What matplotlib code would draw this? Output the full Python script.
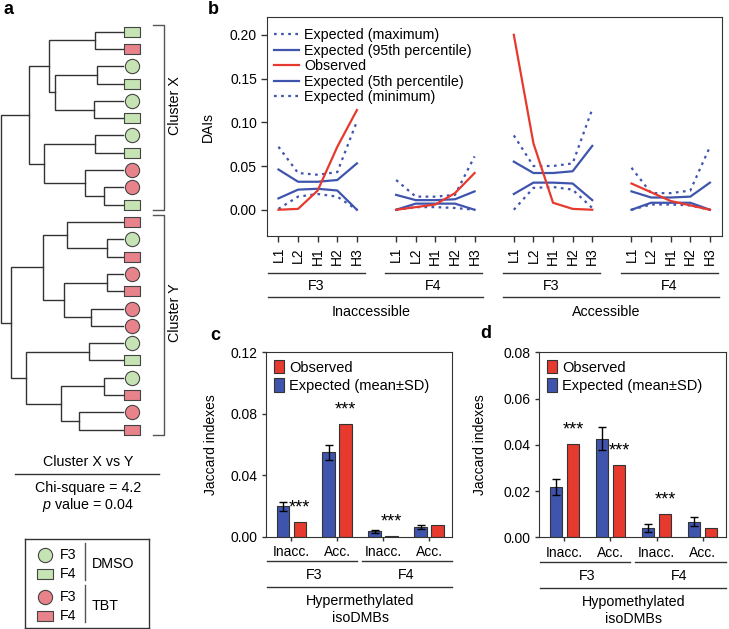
import numpy as np
import matplotlib.pyplot as plt
from matplotlib.lines import Line2D
from matplotlib.ticker import FormatStrFormatter

plt.rcParams['font.family'] = ['Liberation Sans', 'DejaVu Sans']
plt.rcParams['mathtext.fontset'] = 'custom'
plt.rcParams['mathtext.rm'] = 'Liberation Sans'
plt.rcParams['mathtext.it'] = 'Liberation Sans:italic'
plt.rcParams['font.size'] = 10
plt.rcParams['axes.edgecolor'] = '#333333'
plt.rcParams['xtick.color'] = '#333333'
plt.rcParams['ytick.color'] = '#333333'
plt.rcParams['xtick.labelcolor'] = 'black'
plt.rcParams['ytick.labelcolor'] = 'black'

# ---- panel a: dendrogram leaves (top to bottom) and merges ----
leaf_treat = ["DMSO", "TBT", "DMSO", "DMSO", "DMSO", "DMSO", "DMSO", "DMSO", "TBT", "TBT", "DMSO",
              "TBT", "DMSO", "TBT", "TBT", "TBT", "TBT", "TBT", "DMSO", "DMSO", "DMSO", "TBT", "TBT", "TBT"]
leaf_gen = ["F4", "F4", "F3", "F4", "F3", "F4", "F3", "F4", "F3", "F3", "F4",
            "F4", "F3", "F4", "F3", "F4", "F3", "F3", "F3", "F4", "F3", "F4", "F3", "F4"]
# (node a, node b, height); leaves are 0..23, new nodes numbered from 24
merges = [(0, 1, 0.232), (2, 3, 0.213), (4, 5, 0.240), (25, 26, 0.559), (24, 27, 0.605),
          (6, 7, 0.232), (9, 10, 0.155), (8, 30, 0.308), (29, 31, 0.649), (28, 32, 0.768),
          (12, 13, 0.131), (11, 34, 0.455), (14, 15, 0.131), (16, 17, 0.259), (36, 37, 0.482),
          (35, 38, 0.659), (18, 19, 0.278), (20, 21, 0.158), (22, 23, 0.362), (41, 42, 0.512),
          (40, 43, 0.796), (39, 44, 0.918), (33, 45, 1.0)]
clusters = [("Cluster X", 0, 10), ("Cluster Y", 11, 23)]

# ---- panel b: DAIs ----
stages = ["L1", "L2", "H1", "H2", "H3"]
b_groups = ["F3", "F4", "F3", "F4"]
b_access = ["Inaccessible", "Accessible"]
exp_max = [[0.072, 0.042, 0.040, 0.043, 0.101], [0.034, 0.015, 0.015, 0.017, 0.061],
           [0.085, 0.050, 0.050, 0.053, 0.115], [0.048, 0.019, 0.019, 0.022, 0.072]]
exp_p95 = [[0.046, 0.032, 0.032, 0.034, 0.053], [0.017, 0.011, 0.011, 0.012, 0.021],
           [0.055, 0.042, 0.042, 0.044, 0.073], [0.021, 0.014, 0.014, 0.015, 0.031]]
observed = [[0.000, 0.001, 0.022, 0.072, 0.114], [0.000, 0.003, 0.006, 0.019, 0.042],
            [0.200, 0.076, 0.008, 0.001, 0.000], [0.030, 0.020, 0.010, 0.005, 0.000]]
exp_p5 = [[0.013, 0.023, 0.024, 0.022, 0.000], [0.000, 0.007, 0.007, 0.007, 0.000],
          [0.018, 0.031, 0.031, 0.030, 0.011], [0.000, 0.008, 0.008, 0.008, 0.000]]
exp_min = [[0.001, 0.015, 0.018, 0.015, 0.000], [0.000, 0.003, 0.003, 0.002, 0.000],
           [0.000, 0.025, 0.026, 0.023, 0.002], [0.000, 0.006, 0.006, 0.005, 0.000]]

# ---- panels c, d: Jaccard indexes ----
cd_cats = ["Inacc.", "Acc.", "Inacc.", "Acc."]
cd_gens = ["F3", "F4"]
c_obs = [0.0095, 0.0733, 0.0005, 0.0076]
c_exp = [0.0197, 0.0549, 0.0035, 0.0063]
c_sd = [0.0027, 0.0049, 0.0010, 0.0013]
c_sig = [True, True, True, False]
d_obs = [0.0404, 0.0314, 0.0100, 0.0042]
d_exp = [0.0217, 0.0426, 0.0039, 0.0067]
d_sd = [0.0034, 0.0049, 0.0018, 0.0019]
d_sig = [True, True, True, False]

BLUE = '#3f55ad'
RED = '#e63a2e'
GREEN = '#c6e3b3'
PINK = '#e8838c'
DARK = '#333333'
DOTS = (0, (1.2, 2.0))

W, H = 729, 629
fig = plt.figure(figsize=(W / 100, H / 100), dpi=100)


def px_axes(x0, y0, x1, y1):
    return fig.add_axes([x0 / W, 1 - y1 / H, (x1 - x0) / W, (y1 - y0) / H])


rect_marker = [(-1, -0.72), (1, -0.72), (1, 0.72), (-1, 0.72), (-1, -0.72)]


def leaf_style(treat, gen):
    color = GREEN if treat == "DMSO" else PINK
    if gen == "F3":
        return dict(marker='o', s=105, c=color)
    return dict(marker=rect_marker, s=120, c=color)


# ================= a =================
axa = px_axes(0, 22, 200, 440)
axa.set_xlim(1.008, -0.631)
axa.set_ylim(23.6, -0.56)
axa.axis('off')

pos = {i: (0.0, float(i)) for i in range(len(leaf_treat))}
node = len(leaf_treat)
for a, b, h in merges:
    (ha, ya), (hb, yb) = pos[a], pos[b]
    axa.plot([ha, h, h, hb], [ya, ya, yb, yb], color=DARK, lw=1.0, solid_joinstyle='miter')
    pos[node] = (h, (ya + yb) / 2)
    node += 1

for i, (t, g) in enumerate(zip(leaf_treat, leaf_gen)):
    axa.scatter([-0.074], [i], edgecolors='#444444', linewidths=0.8, zorder=3, **leaf_style(t, g))

for name, i0, i1 in clusters:
    axa.plot([-0.246, -0.336, -0.336, -0.246], [i0 - 0.38, i0 - 0.38, i1 + 0.3, i1 + 0.3],
             color='#555555', lw=1.0)
    axa.text(-0.43, (i0 + i1) / 2 - 0.73, name, rotation=90, ha='center', va='center', fontsize=10.3)

fig.text(88 / W, 1 - 462 / H, "Cluster X vs Y", ha='center', va='center', fontsize=10.3)
fig.add_artist(Line2D([15 / W, 159 / W], [1 - 474 / H] * 2, color=DARK, lw=1.0))
fig.text(88 / W, 1 - 488 / H, "Chi-square = 4.2", ha='center', va='center', fontsize=10.3)
fig.text(88 / W, 1 - 505 / H, "$p$ value = 0.04", ha='center', va='center', fontsize=10.3)

# legend box for panel a
axl = px_axes(25, 539, 149, 628)
axl.set_xlim(25, 149)
axl.set_ylim(628, 539)
axl.set_xticks([])
axl.set_yticks([])
for sp in axl.spines.values():
    sp.set_linewidth(1.0)
    sp.set_color(DARK)
for treat, y0 in [("DMSO", 555), ("TBT", 597)]:
    for k, gen in enumerate(["F3", "F4"]):
        yy = y0 + k * 19
        axl.scatter([45], [yy], edgecolors='#444444', linewidths=0.8, **leaf_style(treat, gen))
        axl.text(60, yy, gen, ha='left', va='center', fontsize=10.3)
    axl.plot([85, 85], [y0 - 12, y0 + 25], color='#555555', lw=1.0)
    axl.text(92, y0 + 9, treat, ha='left', va='center', fontsize=10.3)

# ================= b =================
axb = px_axes(266.7, 17.3, 721.7, 236)
series = [(exp_max, BLUE, DOTS, "Expected (maximum)", 2),
          (exp_p95, BLUE, '-', "Expected (95th percentile)", 2),
          (observed, RED, '-', "Observed", 3),
          (exp_p5, BLUE, '-', "Expected (5th percentile)", 2),
          (exp_min, BLUE, DOTS, "Expected (minimum)", 2)]
starts = [g * 6 for g in range(len(b_groups))]
for vals, col, ls, lab, z in series:
    for g, s in enumerate(starts):
        axb.plot(s + np.arange(len(stages)), vals[g], color=col, ls=ls, lw=1.6,
                 label=lab if g == 0 else None, zorder=z)
axb.set_xlim(-0.6, 22.6)
axb.set_ylim(-0.03, 0.22)
axb.set_yticks(np.arange(0, 0.21, 0.05))
axb.yaxis.set_major_formatter(FormatStrFormatter('%.2f'))
axb.set_xticks([s + k for s in starts for k in range(len(stages))])
axb.set_xticklabels(stages * len(b_groups), rotation=90)
axb.tick_params(length=4, width=1.0, labelsize=10, pad=3)
axb.tick_params(axis='x', pad=4)
axb.set_ylabel("DAIs", fontsize=10)
axb.yaxis.set_label_coords(-0.114, 0.5)
axb.legend(loc='upper left', bbox_to_anchor=(0.0, 0.982), frameon=False, fontsize=10.3,
           handlelength=1.75, handletextpad=0.35, labelspacing=0.1, borderaxespad=0.2,
           borderpad=0.3)

tb = axb.get_xaxis_transform()
for s, lab in zip(starts, b_groups):
    axb.plot([s - 0.55, s + 4.4], [-0.169] * 2, transform=tb, clip_on=False, color=DARK, lw=1.0)
    axb.text(s + 1.9, -0.229, lab, transform=tb, ha='center', va='center', fontsize=10.3)
for k, lab in enumerate(b_access):
    x0, x1 = starts[2 * k] - 0.55, starts[2 * k + 1] + 4.45
    axb.plot([x0, x1], [-0.279] * 2, transform=tb, clip_on=False, color=DARK, lw=1.0)
    axb.text((x0 + x1) / 2 - 0.25, -0.347, lab, transform=tb, ha='center', va='center', fontsize=10.3)


# ================= c, d =================
def jaccard_panel(ax, obs, exp, sd, sig, ymax, title2):
    x = np.arange(len(cd_cats))
    bw, off = 0.27, 0.185
    be = ax.bar(x - off, exp, bw, yerr=sd, color=BLUE, edgecolor=DARK, linewidth=0.8,
                error_kw=dict(ecolor='black', elinewidth=1.0, capsize=3.2, capthick=1.0),
                label="Expected (mean\u00b1SD)")
    bo = ax.bar(x + off, obs, bw, color=RED, edgecolor=DARK, linewidth=0.8, label="Observed")
    for xi, yi, s in zip(x, obs, sig):
        if s:
            ax.annotate("***", (xi + off, yi), xytext=(0, 4), textcoords='offset points',
                        ha='center', va='bottom', fontsize=13)
    ax.set_xlim(-0.55, 3.5)
    ax.set_ylim(0, ymax)
    ax.yaxis.set_major_formatter(FormatStrFormatter('%.2f'))
    ax.set_xticks(x)
    ax.set_xticklabels(cd_cats)
    ax.tick_params(length=3, width=1.0, labelsize=10, pad=3)
    ax.set_ylabel("Jaccard indexes", fontsize=10)
    ax.legend([bo, be], ["Observed", "Expected (mean\u00b1SD)"], loc='upper left',
              bbox_to_anchor=(0.0, 1.0), frameon=False, fontsize=10.5, handlelength=0.7,
              handleheight=1.0, handletextpad=0.35, labelspacing=0.25, borderaxespad=0.25,
              borderpad=0.3)
    t = ax.get_xaxis_transform()
    for k, lab in enumerate(cd_gens):
        x0 = -0.53 if k == 0 else 1.53
        x1 = 1.43 if k == 0 else 3.5
        ax.plot([x0, x1], [-0.132] * 2, transform=t, clip_on=False, color=DARK, lw=1.0)
        ax.text(2 * k + 0.5, -0.21, lab, transform=t, ha='center', va='center', fontsize=10.3)
    ax.plot([-0.53, 3.5], [-0.275] * 2, transform=t, clip_on=False, color=DARK, lw=1.0)
    ax.text(1.5, -0.35, title2, transform=t, ha='center', va='center', fontsize=10.3)
    ax.text(1.5, -0.44, "isoDMBs", transform=t, ha='center', va='center', fontsize=10.3)


axc = px_axes(266, 352.3, 452, 536.7)
jaccard_panel(axc, c_obs, c_exp, c_sd, c_sig, 0.12, "Hypermethylated")
axc.set_yticks([0, 0.04, 0.08, 0.12])
axc.yaxis.set_label_coords(-0.26, 0.5)

axd = px_axes(539, 352.3, 725.7, 537.3)
jaccard_panel(axd, d_obs, d_exp, d_sd, d_sig, 0.08, "Hypomethylated")
axd.set_yticks([0, 0.02, 0.04, 0.06, 0.08])
axd.yaxis.set_label_coords(-0.28, 0.5)

# panel letters
for lab, xx, yy in [("a", 3, 10), ("b", 208, 9), ("c", 210, 336), ("d", 480, 334)]:
    fig.text(xx / W, 1 - yy / H, lab, ha='left', va='center', fontsize=13, fontweight='bold')

fig.savefig("out.png", dpi=100)
